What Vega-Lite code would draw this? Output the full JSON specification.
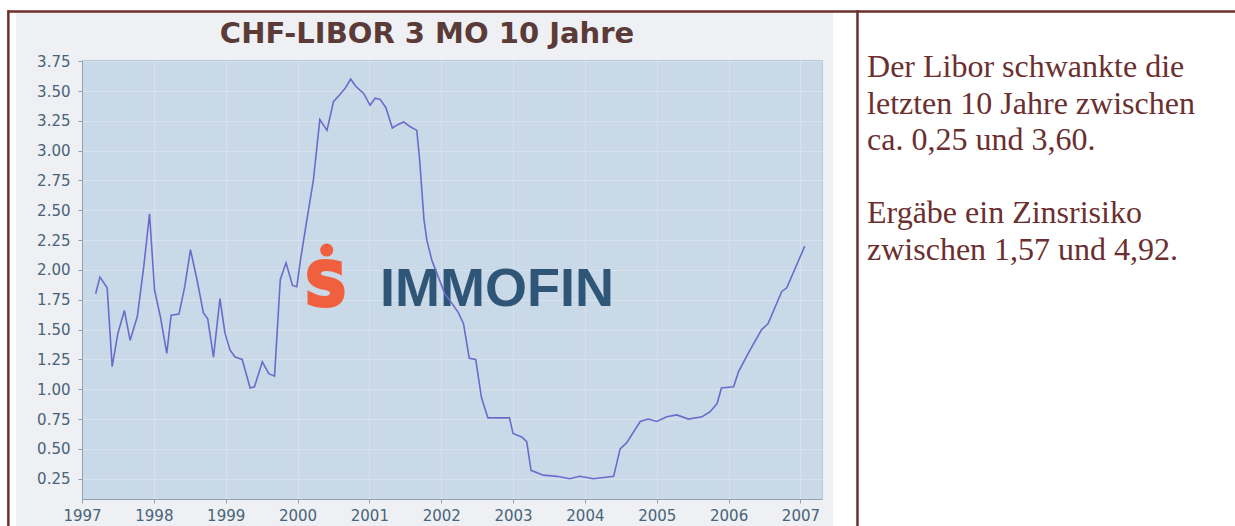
{
  "$schema": "https://vega.github.io/schema/vega-lite/v6.json",
  "autosize": "none",
  "width": 740,
  "height": 439,
  "padding": {"left": 82, "top": 60, "right": 413, "bottom": 27},
  "background": "#eef0f3",
  "resolve": {"axis": {"x": "independent", "y": "independent"}},
  "config": {
    "view": {"fill": "#c9d9e8", "stroke": "#b7c9d9", "strokeWidth": 1},
    "axis": {
      "labelFont": "DejaVu Sans",
      "labelFontSize": 15,
      "labelColor": "#48637a",
      "labelOverlap": false,
      "labelFlush": false,
      "domainColor": "#8ea2b2",
      "tickColor": "#8ea2b2",
      "tickSize": 4,
      "gridColor": "#d6e2ed",
      "gridWidth": 1
    }
  },
  "datasets": {
    "libor": [
      {"year": 1997.19, "rate": 1.80},
      {"year": 1997.25, "rate": 1.94},
      {"year": 1997.35, "rate": 1.85},
      {"year": 1997.42, "rate": 1.19},
      {"year": 1997.50, "rate": 1.47},
      {"year": 1997.59, "rate": 1.66},
      {"year": 1997.67, "rate": 1.41},
      {"year": 1997.77, "rate": 1.61},
      {"year": 1997.86, "rate": 2.03},
      {"year": 1997.94, "rate": 2.47},
      {"year": 1998.01, "rate": 1.83},
      {"year": 1998.09, "rate": 1.61},
      {"year": 1998.18, "rate": 1.30},
      {"year": 1998.24, "rate": 1.62},
      {"year": 1998.35, "rate": 1.63},
      {"year": 1998.43, "rate": 1.86},
      {"year": 1998.51, "rate": 2.17},
      {"year": 1998.60, "rate": 1.92},
      {"year": 1998.69, "rate": 1.64},
      {"year": 1998.75, "rate": 1.59},
      {"year": 1998.83, "rate": 1.27},
      {"year": 1998.92, "rate": 1.76},
      {"year": 1998.99, "rate": 1.47},
      {"year": 1999.06, "rate": 1.33},
      {"year": 1999.13, "rate": 1.27},
      {"year": 1999.23, "rate": 1.25},
      {"year": 1999.34, "rate": 1.01},
      {"year": 1999.40, "rate": 1.02},
      {"year": 1999.51, "rate": 1.23},
      {"year": 1999.60, "rate": 1.13},
      {"year": 1999.68, "rate": 1.11},
      {"year": 1999.76, "rate": 1.92},
      {"year": 1999.84, "rate": 2.06},
      {"year": 1999.93, "rate": 1.87},
      {"year": 1999.99, "rate": 1.86},
      {"year": 2000.04, "rate": 2.08},
      {"year": 2000.13, "rate": 2.42},
      {"year": 2000.22, "rate": 2.75},
      {"year": 2000.31, "rate": 3.26},
      {"year": 2000.41, "rate": 3.17},
      {"year": 2000.50, "rate": 3.41},
      {"year": 2000.59, "rate": 3.47},
      {"year": 2000.66, "rate": 3.52},
      {"year": 2000.74, "rate": 3.60},
      {"year": 2000.81, "rate": 3.54},
      {"year": 2000.92, "rate": 3.48},
      {"year": 2001.01, "rate": 3.38},
      {"year": 2001.08, "rate": 3.44},
      {"year": 2001.15, "rate": 3.43},
      {"year": 2001.23, "rate": 3.36},
      {"year": 2001.32, "rate": 3.19},
      {"year": 2001.40, "rate": 3.22},
      {"year": 2001.48, "rate": 3.24},
      {"year": 2001.57, "rate": 3.20},
      {"year": 2001.66, "rate": 3.17},
      {"year": 2001.70, "rate": 2.92},
      {"year": 2001.76, "rate": 2.42},
      {"year": 2001.80, "rate": 2.25},
      {"year": 2001.87, "rate": 2.08},
      {"year": 2001.96, "rate": 1.94},
      {"year": 2002.05, "rate": 1.80},
      {"year": 2002.15, "rate": 1.72},
      {"year": 2002.24, "rate": 1.64},
      {"year": 2002.31, "rate": 1.55},
      {"year": 2002.39, "rate": 1.26},
      {"year": 2002.48, "rate": 1.25},
      {"year": 2002.56, "rate": 0.93},
      {"year": 2002.65, "rate": 0.76},
      {"year": 2002.82, "rate": 0.76},
      {"year": 2002.95, "rate": 0.76},
      {"year": 2003.00, "rate": 0.63},
      {"year": 2003.12, "rate": 0.60},
      {"year": 2003.19, "rate": 0.56},
      {"year": 2003.25, "rate": 0.32},
      {"year": 2003.42, "rate": 0.28},
      {"year": 2003.61, "rate": 0.27},
      {"year": 2003.79, "rate": 0.25},
      {"year": 2003.93, "rate": 0.27},
      {"year": 2004.12, "rate": 0.25},
      {"year": 2004.26, "rate": 0.26},
      {"year": 2004.40, "rate": 0.27},
      {"year": 2004.49, "rate": 0.50},
      {"year": 2004.58, "rate": 0.55},
      {"year": 2004.77, "rate": 0.73},
      {"year": 2004.88, "rate": 0.75},
      {"year": 2005.00, "rate": 0.73},
      {"year": 2005.14, "rate": 0.77},
      {"year": 2005.28, "rate": 0.785},
      {"year": 2005.44, "rate": 0.75},
      {"year": 2005.63, "rate": 0.77},
      {"year": 2005.74, "rate": 0.81},
      {"year": 2005.84, "rate": 0.88},
      {"year": 2005.90, "rate": 1.01},
      {"year": 2006.07, "rate": 1.02},
      {"year": 2006.14, "rate": 1.15},
      {"year": 2006.30, "rate": 1.33},
      {"year": 2006.46, "rate": 1.50},
      {"year": 2006.55, "rate": 1.55},
      {"year": 2006.74, "rate": 1.82},
      {"year": 2006.81, "rate": 1.85},
      {"year": 2007.06, "rate": 2.20}
    ]
  },
  "layer": [
    {
      "data": {"values": [{}]},
      "mark": {"type": "rect", "color": "#ffffff", "clip": false},
      "encoding": {
        "x": {"datum": 1995.85, "axis": null, "scale": {"domain": [1997, 2007.3], "nice": false, "zero": false}},
        "x2": {"datum": 1996.081},
        "y": {"datum": 4.27, "axis": null, "scale": {"domain": [0.08, 3.76], "nice": false, "zero": false}},
        "y2": {"datum": -0.15}
      }
    },
    {
      "data": {"values": [{}]},
      "mark": {"type": "rect", "color": "#ffffff", "clip": false},
      "encoding": {
        "x": {"datum": 1995.85, "axis": null}, "x2": {"datum": 2013.06},
        "y": {"datum": 4.27, "axis": null}, "y2": {"datum": 4.162}
      }
    },
    {
      "data": {"values": [{}]},
      "mark": {"type": "rect", "color": "#ffffff", "clip": false},
      "encoding": {
        "x": {"datum": 2007.453, "axis": null}, "x2": {"datum": 2013.06},
        "y": {"datum": 4.27, "axis": null}, "y2": {"datum": -0.15}
      }
    },
    {
      "data": {"values": [{}]},
      "mark": {"type": "rule", "color": "#6e2f2f", "strokeWidth": 2.5, "clip": false},
      "encoding": {
        "x": {"datum": 1995.965, "axis": null}, "x2": {"datum": 2013.06},
        "y": {"datum": 4.166, "axis": null}
      }
    },
    {
      "data": {"values": [{}]},
      "mark": {"type": "rule", "color": "#6e2f2f", "strokeWidth": 2.5, "clip": false},
      "encoding": {
        "x": {"datum": 1995.975, "axis": null},
        "y": {"datum": 4.176, "axis": null}, "y2": {"datum": -0.15}
      }
    },
    {
      "data": {"values": [{}]},
      "mark": {"type": "rule", "color": "#6e2f2f", "strokeWidth": 2.5, "clip": false},
      "encoding": {
        "x": {"datum": 2007.794, "axis": null},
        "y": {"datum": 4.176, "axis": null}, "y2": {"datum": -0.15}
      }
    },
    {
      "data": {"values": [{}]},
      "mark": {
        "type": "text",
        "clip": false,
        "font": "DejaVu Sans",
        "fontSize": 29,
        "fontWeight": "bold",
        "color": "#5a3b37",
        "align": "center",
        "baseline": "alphabetic",
        "text": "CHF-LIBOR 3 MO 10 Jahre"
      },
      "encoding": {
        "x": {"datum": 2001.802, "axis": null},
        "y": {"datum": 3.9025, "axis": null}
      }
    },
    {
      "data": {"values": [{}]},
      "mark": {
        "type": "text",
        "clip": false,
        "font": "Liberation Serif",
        "fontSize": 32,
        "color": "#6b2f30",
        "align": "left",
        "baseline": "alphabetic",
        "lineHeight": 36.5,
        "text": ["Der Libor schwankte die", "letzten 10 Jahre zwischen", "ca. 0,25 und 3,60."]
      },
      "encoding": {
        "x": {"datum": 2007.927, "axis": null},
        "y": {"datum": 3.617, "axis": null}
      }
    },
    {
      "data": {"values": [{}]},
      "mark": {
        "type": "text",
        "clip": false,
        "font": "Liberation Serif",
        "fontSize": 32,
        "color": "#6b2f30",
        "align": "left",
        "baseline": "alphabetic",
        "lineHeight": 36.5,
        "text": ["Ergäbe ein Zinsrisiko", "zwischen 1,57 und 4,92."]
      },
      "encoding": {
        "x": {"datum": 2007.927, "axis": null},
        "y": {"datum": 2.392, "axis": null}
      }
    },
    {
      "data": {"values": [{}]},
      "mark": {
        "type": "text",
        "font": "Liberation Sans",
        "fontSize": 54,
        "fontWeight": "bold",
        "color": "#2f5677",
        "align": "left",
        "baseline": "alphabetic",
        "text": "IMMOFIN"
      },
      "encoding": {
        "x": {"datum": 2001.148, "axis": null},
        "y": {"datum": 1.698, "axis": null}
      }
    },
    {
      "data": {"values": [{}]},
      "mark": {
        "type": "text",
        "font": "DejaVu Sans",
        "fontSize": 58,
        "fontWeight": "bold",
        "color": "#f0603f",
        "stroke": "#f0603f",
        "strokeWidth": 4,
        "align": "center",
        "baseline": "alphabetic",
        "text": "S"
      },
      "encoding": {
        "x": {"datum": 2000.396, "axis": null},
        "y": {"datum": 1.71, "axis": null}
      }
    },
    {
      "data": {"values": [{}]},
      "mark": {"type": "point", "filled": true, "color": "#f0603f", "opacity": 1, "size": 170},
      "encoding": {
        "x": {"datum": 2000.406, "axis": null},
        "y": {"datum": 2.167, "axis": null}
      }
    },
    {
      "data": {"name": "libor"},
      "mark": {"type": "line", "color": "#6a6ccc", "strokeWidth": 1.6},
      "encoding": {
        "x": {
          "field": "year",
          "type": "quantitative",
          "title": null,
          "scale": {"domain": [1997, 2007.3], "nice": false, "zero": false},
          "axis": {"orient": "bottom", "values": [1997, 1998, 1999, 2000, 2001, 2002, 2003, 2004, 2005, 2006, 2007], "format": "d", "labelPadding": 5, "grid": true, "labelFlush": false, "labelOverlap": false}
        },
        "y": {
          "field": "rate",
          "type": "quantitative",
          "title": null,
          "scale": {"domain": [0.08, 3.76], "nice": false, "zero": false},
          "axis": {"orient": "left", "values": [0.25, 0.5, 0.75, 1, 1.25, 1.5, 1.75, 2, 2.25, 2.5, 2.75, 3, 3.25, 3.5, 3.75], "format": ".2f", "labelPadding": 8, "grid": true, "labelOverlap": false}
        }
      }
    }
  ]
}
